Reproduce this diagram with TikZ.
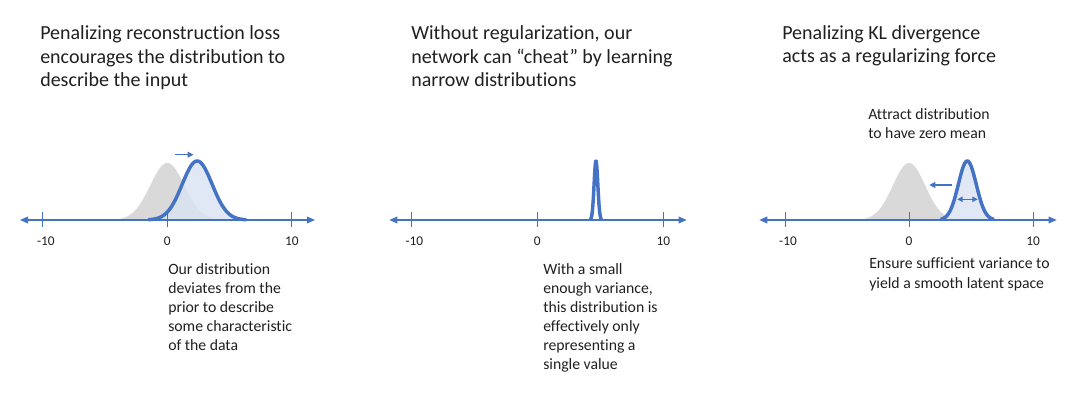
\documentclass[tikz,border=0pt]{standalone}
\usepackage{fontspec}
\setmainfont{Carlito}[Ligatures=NoCommon]
\usetikzlibrary{arrows.meta}
\definecolor{oblue}{HTML}{4472C4}
\definecolor{lblue}{HTML}{DAE3F3}
\definecolor{lgray}{HTML}{D9D9D9}
\definecolor{txt}{HTML}{202020}
\tikzset{
  axisline/.style={draw=oblue, line width=0.9pt, {Triangle[length=6pt,width=5pt]}-{Triangle[length=6pt,width=5pt]}},
  tickline/.style={draw=oblue, line width=0.75pt},
  curve/.style={draw=oblue, line width=2.6pt, line join=round, line cap=round},
  sarrow/.style={draw=oblue, line width=0.9pt, -{Triangle[length=4.5pt,width=4.5pt]}},
  darrow/.style={draw=oblue, line width=0.9pt, {Triangle[length=4pt,width=4pt]}-{Triangle[length=4pt,width=4pt]}},
  titletext/.style={anchor=base west, align=left, inner sep=0pt, text=txt, font=\fontsize{15}{17.6}\selectfont},
  bodytext/.style={anchor=base west, align=left, inner sep=0pt, text=txt, font=\fontsize{11.8}{14.25}\selectfont},
  ticklab/.style={anchor=base, inner sep=0pt, text=txt, font=\fontsize{10}{12}\selectfont},
}
\begin{document}
\begin{tikzpicture}[x=0.75pt,y=-0.75pt]
\useasboundingbox[fill=white] (0,0) rectangle (1080,409);

% ---------------- Panel 1 ----------------
% (base anchor = baseline of the last line)
\node[titletext] (t1) at (40,86.5) {Penalizing reconstruction loss\\encourages the distribution to\\describe the input};
\fill[lgray] plot[domain=-4.5:4.5, samples=120] ({167.3+12.45*\x},{220-57*exp(0-(\x)*(\x)/(2*1.37*1.37))}) -- cycle;
\fill[lblue, opacity=0.8] plot[domain=-1.5:6.3, samples=120] ({167.3+12.45*\x},{220-59*exp(0-(\x-2.4)*(\x-2.4)/(2*1.2*1.2))}) -- cycle;
\coordinate (a1l) at (20,220);
\coordinate (a1r) at (315,220);
\draw[axisline] (a1l) -- (a1r);
\foreach \t/\lab/\dx in {-10/-10/3, 0/0/0, 10/10/0}{
  \draw[tickline] ({167.3+12.45*\t},212) -- ({167.3+12.45*\t},227.5);
  \node[ticklab] at ({167.3+12.45*\t+\dx},246) {\lab};
}
\draw[curve] plot[domain=-1.5:6.3, samples=120] ({167.3+12.45*\x},{220-59*exp(0-(\x-2.4)*(\x-2.4)/(2*1.2*1.2))});
\coordinate (m1a) at (175,154.7);
\coordinate (m1b) at (193.5,154.7);
\draw[sarrow] (m1a) -- (m1b);
\node[bodytext] (b1) at (168,350) {Our distribution\\deviates from the\\prior to describe\\some characteristic\\of the data};

% ---------------- Panel 2 ----------------
\node[titletext] (t2) at (411,86.5) {Without regularization, our\\network can “cheat” by learning\\narrow distributions};
\coordinate (a2l) at (389.3,220);
\coordinate (a2r) at (686.7,220);
\draw[axisline] (a2l) -- (a2r);
\foreach \t/\lab/\dx in {-10/-10/3, 0/0/0, 10/10/0}{
  \draw[tickline] ({537.3+12.6*\t},212) -- ({537.3+12.6*\t},227.5);
  \node[ticklab] at ({537.3+12.6*\t+\dx},246) {\lab};
}
\draw[curve] plot[domain=4.3:5.16, samples=80] ({537.3+12.4*\x},{220-59*exp(0-(\x-4.73)*(\x-4.73)/(2*0.15*0.15))});
\node[bodytext] (b2) at (543,369) {With a small\\enough variance,\\this distribution is\\effectively only\\representing a\\single value};

% ---------------- Panel 3 ----------------
\node[titletext] (t3) at (782,63) {Penalizing KL divergence\\acts as a regularizing force};
\node[bodytext] (k3) at (868,138.5) {Attract distribution\\to have zero mean};
\fill[lgray] plot[domain=-4.5:4.5, samples=120] ({909+12.4*\x},{220-57*exp(0-(\x)*(\x)/(2*1.3*1.3))}) -- cycle;
\fill[lblue, opacity=0.8] plot[domain=2.6:6.8, samples=120] ({909+12.4*\x},{220-59*exp(0-(\x-4.7)*(\x-4.7)/(2*0.72*0.72))}) -- cycle;
\coordinate (a3l) at (759.3,220);
\coordinate (a3r) at (1056.7,220);
\draw[axisline] (a3l) -- (a3r);
\foreach \t/\lab/\dx in {-10/-10/3, 0/0/0, 10/10/0}{
  \draw[tickline] ({909+12.4*\t},212) -- ({909+12.4*\t},227.5);
  \node[ticklab] at ({909+12.4*\t+\dx},246) {\lab};
}
\draw[curve] plot[domain=2.6:6.8, samples=120] ({909+12.4*\x},{220-59*exp(0-(\x-4.7)*(\x-4.7)/(2*0.72*0.72))});
\coordinate (m3a) at (952.3,185);
\coordinate (m3b) at (929.3,185);
\draw[sarrow] (m3a) -- (m3b);
\coordinate (v3a) at (957.3,199.3);
\coordinate (v3b) at (977.7,199.3);
\draw[darrow] (v3a) -- (v3b);
\node[bodytext] (e3) at (869,288) {Ensure sufficient variance to\\yield a smooth latent space};
\end{tikzpicture}
\end{document}
